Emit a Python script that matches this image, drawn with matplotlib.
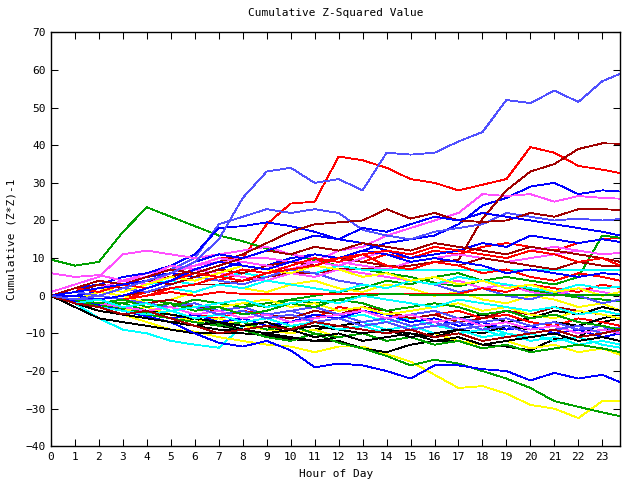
import matplotlib
matplotlib.use('Agg')
import matplotlib.pyplot as plt

# hour of day for every sample (last sample is 23:45)
hours = list(range(24)) + [23.75]

# gnuplot-like pen colours
palette = {
    'red': '#ff0000', 'green': '#00a000', 'blue': '#0000ff',
    'magenta': '#ff50ff', 'cyan': '#00ffff', 'yellow': '#ffff00',
    'black': '#000000', 'darkred': '#a00000', 'ltblue': '#5050ff',
}

# cumulative (Z*Z)-1 per station at each hour
walk_colors = [
    'red', 'green', 'blue', 'magenta', 'cyan', 'yellow', 'black', 'darkred', 'ltblue',
    'red', 'green', 'blue', 'magenta', 'cyan', 'yellow', 'black', 'darkred', 'ltblue',
    'red', 'green', 'blue', 'magenta', 'cyan', 'yellow', 'black', 'darkred', 'ltblue',
    'red', 'green', 'blue', 'magenta', 'cyan', 'yellow', 'black', 'darkred', 'ltblue',
    'red', 'green', 'blue', 'magenta', 'cyan', 'yellow', 'black', 'darkred', 'ltblue',
    'red', 'green', 'blue', 'cyan', 'darkred',
]
walks = [
    # red -> 38 at noon
    [0, 1, 2, 3, 5, 6, 8, 10, 10, 19, 24.5, 25, 37, 36, 34, 31, 30, 28, 29.5, 31, 39.5, 38, 34.5, 33.5, 32.6],
    # green peak 24
    [9.6, 8, 9, 17, 23.5, 21, 18.5, 16, 14.5, 12.5, 11, 9.5, 8, 7, 6, 5, 3.5, 2.5, 4, 3, 1.5, 0.5, -0.5, -1, -1.5],
    # blue -> 27.7
    [0, 0, 1, 3, 5, 6, 5, 7, 9, 8, 10, 11, 10, 12, 14, 15, 16, 19, 24, 26, 29, 30, 27, 28, 27.7],
    # magenta -> 25.8
    [0, 1, 2, 4, 6, 7, 8, 9, 10, 10, 9, 9, 12, 13, 16, 18, 20, 22, 27, 26.5, 27, 25, 26.5, 26, 25.8],
    [0, -2, -6, -9, -10, -12, -13, -13.8, -8, -9, -10, -9, -8, -7, -9, -8, -10, -9, -11, -10, -12, -11, -13, -12, -13],
    # yellow bottom
    [0, -2, -4, -5, -7, -9, -9.5, -11, -12, -13, -13.5, -15, -13.5, -13.5, -15.5, -17.5, -21, -24.5, -24, -26, -29, -30, -32.5, -28, -28],
    [0, -3, -6, -7, -8, -9, -10, -10, -10, -10.5, -11.5, -12, -12, -14, -15, -13, -12, -12, -13, -13.5, -14.5, -11.5, -11, -7, -6],
    # darkred -> 40
    [0, -1, -1, 0, 1, 2, 3, 3, 4, 5, 6, 6, 7, 7, 8, 8, 9, 9.5, 20.5, 28, 33, 35, 39, 40.5, 40.4],
    # light blue -> 20
    [0, 1, 2, 3, 5, 7, 10, 19, 21, 23, 22, 23, 22, 17.5, 16, 15, 17, 18, 19, 22, 21, 20, 20.5, 20, 20.4],
    [0, 1, 0, -1, 1, 3, 5, 4, 6, 8, 7, 9, 10, 9, 11, 10, 12, 11, 13, 14, 13, 12, 14, 15, 15.4],
    # green jump late
    [0, -1, -2, -2, -1, -2, -3, -3, -2, -3, -1, 0, 1, 2, 4, 3, 5, 6, 4, 5, 4, 3, 5, 16, 15.4],
    [0, 2, 3, 5, 6, 8, 11, 18, 18.5, 19.5, 18.5, 17, 15, 14, 12, 10, 11, 12, 14, 13, 16, 15, 14, 15, 14.3],
    [1, 3, 5, 11, 12, 11, 10, 11, 12, 13, 11, 10, 9, 8, 7, 9, 10, 11, 10, 9, 10, 11, 12, 11, 11.4],
    # cyan flat from 13h
    [0, 1, 2, 1, 3, 4, 3, 5, 6, 5, 7, 6, 8, 6.9, 6.9, 6.9, 6.9, 6.9, 6.9, 6.9, 6.9, 6.9, 6.9, 6.9, 6.9],
    [0, -1, 1, 0, -2, -1, 1, 3, 2, 1, 3, 4, 2, 1, 3, 2, 0, 1, -1, -2, 0, -1, -3, -2, -4],
    [0, -2, -4, -5, -6, -7, -6, -8, -9, -8, -10, -9, -8, -7, -6, -8, -7, -6, -5, -7, -6, -4, -5, -3, -4],
    # darkred ~ 20-23
    [0, 1, 2, 3, 4, 5, 7, 9, 11, 14, 17, 19, 19.5, 20, 23, 20.5, 22, 20, 19.6, 20, 22, 21, 23, 23, 22.8],
    [0, -1, 0, 2, 1, 3, 5, 4, 3, 5, 7, 6, 4, 3, 2, 4, 3, 1, 2, 0, -1, 1, 0, -2, -1],
    [0, -1, -2, -3, -4, -3, -5, -6, -4, -5, -7, -6, -3, -4, -5, -6, -5, -4, -6, -5, -7, -8, -6, -7, -8],
    # green bottom
    [0, -1, -2.5, -3.5, -4.5, -5, -6, -7.5, -9, -11, -12, -10, -12.5, -14, -16, -18.5, -17, -18, -20, -22, -24.5, -28, -29.5, -31, -32],
    # blue bottom
    [0, -1.5, -2.5, -4, -5.5, -7, -10, -12.5, -13.5, -12, -14.5, -19, -18, -18.5, -20, -22, -18.5, -18.5, -19.5, -20, -22.5, -20.5, -22, -21, -23],
    [6, 5, 5.5, 4, 5, 8, 7, 6, 5, 4, 6, 5, 7, 6, 5, 4, 3, 4, 2, 3, 1, 0, 2, 1, 0],
    [0, -1, -2, -3, -2, -4, -3, -5, -4, -6, -5, -7, -6, -5, -7, -6, -8, -9, -8, -10, -11, -10, -12, -11, -12],
    [0, -1, -3, -4, -3, -5, -7, -6, -8, -9, -10, -9, -11, -10, -12, -11, -10, -12, -13, -12, -14, -13, -15, -14, -15.7],
    [0, -2, -4, -5, -6, -7, -8, -9, -9, -10, -11, -12, -11, -10, -9, -10, -11, -9, -8, -9, -8, -7, -8, -6, -5],
    [0, 1, 3, 2, 4, 3, 5, 7, 6, 8, 9, 8, 10, 9, 8, 7, 9, 8, 10, 9, 8, 7, 9, 8, 8],
    [0, 1, 0, -1, -2, -3, -2, -4, -3, -5, -4, -6, -5, -7, -6, -8, -7, -9, -8, -7, -9, -8, -10, -9, -8.5],
    # red flat mid-day
    [0, -1, -2, -1, 0, 1, 0, 1, 0.5, 0.5, 0.5, 0.5, 0.5, 0.5, 0.5, 0.5, 0.5, 0.5, 2, 1, 3, 2, 1, 3, 2],
    [0, -1, -3, -4, -5, -6, -7, -8, -7, -9, -8, -10, -11, -10, -12, -11, -13, -12, -14, -13, -15, -14, -13, -14, -15],
    [0, -2, -3, -5, -4, -6, -5, -7, -6, -8, -7, -5, -6, -4, -5, -7, -6, -8, -7, -9, -8, -10, -9, -11, -10],
    [0, 1, 2, 4, 3, 6, 8, 10, 9, 8, 7, 9, 8, 10, 12, 11, 13, 12, 11, 10, 12, 13, 12, 11, 11.4],
    [0, -1, -2, -1, 0, 2, 1, 3, 2, 4, 3, 2, 1, 3, 2, 4, 3, 5, 4, 3, 2, 1, 3, 2, 2.4],
    [0, 1, 2, 1, 3, 5, 4, 6, 8, 7, 6, 8, 7, 5, 6, 4, 5, 3, 4, 2, 3, 1, 2, 0, 1],
    [0, -2, -1, -3, -4, -5, -6, -7, -8, -7, -9, -8, -9, -10, -9, -11, -10, -9, -10, -8, -9, -8, -10, -9, -9],
    [0, -1, -2, -3, -2, -1, -3, -4, -3, -5, -6, -4, -5, -3, -4, -6, -5, -7, -6, -4, -5, -3, -4, -5, -6],
    [0, -1, -2, -3, -4, -3, -2, -4, -3, -5, -4, -3, -5, -4, -6, -5, -4, -6, -7, -6, -8, -7, -9, -8, -10],
    [0, 2, 1, 3, 2, 4, 6, 5, 7, 6, 8, 10, 9, 11, 8, 7, 9, 8, 6, 7, 5, 4, 6, 5, 4],
    # green flat afternoon
    [0, -2, -3, -2, -4, -3, -1, -2, -3, -2, -1, -2, -1, 0, 0.5, 0.3, 0.3, 0.3, 0.3, 0.3, 0.3, 0.3, 0.3, 0.3, 0.3],
    [0, 0, -1, 0, 2, 4, 7, 9, 8, 7, 9, 11, 10, 12, 11, 9, 10, 9, 8, 6, 7, 6, 5, 6, 5.6],
    [0, -1, -2, -3, -4, -3, -5, -4, -6, -5, -7, -6, -5, -4, -6, -5, -7, -6, -8, -7, -9, -8, -10, -9, -10],
    [0, -2, -3, -4, -5, -4, -6, -5, -7, -6, -8, -7, -9, -8, -10, -9, -11, -10, -9, -11, -10, -12, -11, -13, -13.8],
    [0, -1, -2, -1, -3, -2, -4, -3, -2, -1, -3, -2, -4, -3, -5, -4, -3, -2, -4, -3, -5, -6, -4, -5, -6],
    [0, -2, -4, -5, -6, -7, -8, -7, -9, -10, -9, -11, -10, -12, -11, -10, -12, -11, -13, -12, -11, -10, -12, -11, -12],
    [0, 2, 4, 3, 5, 7, 6, 8, 10, 12, 11, 13, 12, 14, 13, 12, 14, 13, 12, 11, 13, 12, 11, 10, 9],
    [0, -1, -1, -3, -2, -4, -3, -5, -4, -6, -5, -7, -6, -8, -7, -9, -8, -7, -9, -8, -10, -9, -8, -10, -9],
    [0, -1, -2, -1, 0, 2, 3, 5, 4, 6, 7, 8, 10, 11, 12, 11, 13, 12, 11, 10, 12, 11, 9, 10, 8],
    [0, -1, -2, -1, -3, -2, -4, -3, -5, -4, -2, -3, -1, -2, -4, -3, -2, -3, -5, -4, -6, -5, -7, -8, -9],
    [0, 1, 2, 3, 4, 6, 9, 11, 10, 12, 14, 16, 15, 18, 17, 19, 21, 20, 22, 21, 20, 19, 18, 17, 16],
    [0, -2, -1, -3, -2, -4, -3, -2, -1, -3, -2, -1, -2, 0, -1, -2, -3, -1, -2, -3, -4, -3, -5, -4, -5],
    [0, -2, -3, -5, -4, -6, -8, -10, -9, -8, -9, -7, -8, -9, -10, -9, -11, -10, -12, -11, -10, -9, -11, -10, -9],
]
# the light blue station that climbs to 60, drawn last so it sits on top
top_walk = [0, -1, 0, 2, 4, 6, 9, 15, 26, 33, 34, 30, 31, 28, 38, 37.5, 38, 41, 43.5, 52, 51.2, 54.5, 51.5, 57, 59]

FS = 8
MONO = 'DejaVu Sans Mono'
LW = 0.6

fig = plt.figure(figsize=(6.4, 4.8), dpi=100)
fig.patch.set_facecolor('white')
ax = fig.add_axes([51 / 640, 1 - 446.3 / 480, 569.3 / 640, 414 / 480])

for name, vals in zip(walk_colors, walks):
    ax.plot(hours, vals, color=palette[name], linewidth=LW, antialiased=False)
ax.plot(hours, top_walk, color=palette['ltblue'], linewidth=LW, antialiased=False)

ax.set_xlim(0, 23.75)
ax.set_ylim(-40, 70)
ax.set_xticks(range(24))
ax.set_yticks(range(-40, 71, 10))
ax.tick_params(direction='in', length=5, width=0.75, top=True, right=True,
               labelsize=FS, pad=4)
for lab in ax.get_xticklabels() + ax.get_yticklabels():
    lab.set_family(MONO)
for sp in ax.spines.values():
    sp.set_linewidth(1.0)

ax.set_title('Cumulative Z-Squared Value', fontsize=FS, family=MONO, pad=12)
ax.set_xlabel('Hour of Day', fontsize=FS, family=MONO, labelpad=5)
ax.set_ylabel('Cumulative (Z*Z)-1', fontsize=FS, family=MONO, labelpad=6)

fig.savefig('out.png', dpi=100, facecolor='white')
